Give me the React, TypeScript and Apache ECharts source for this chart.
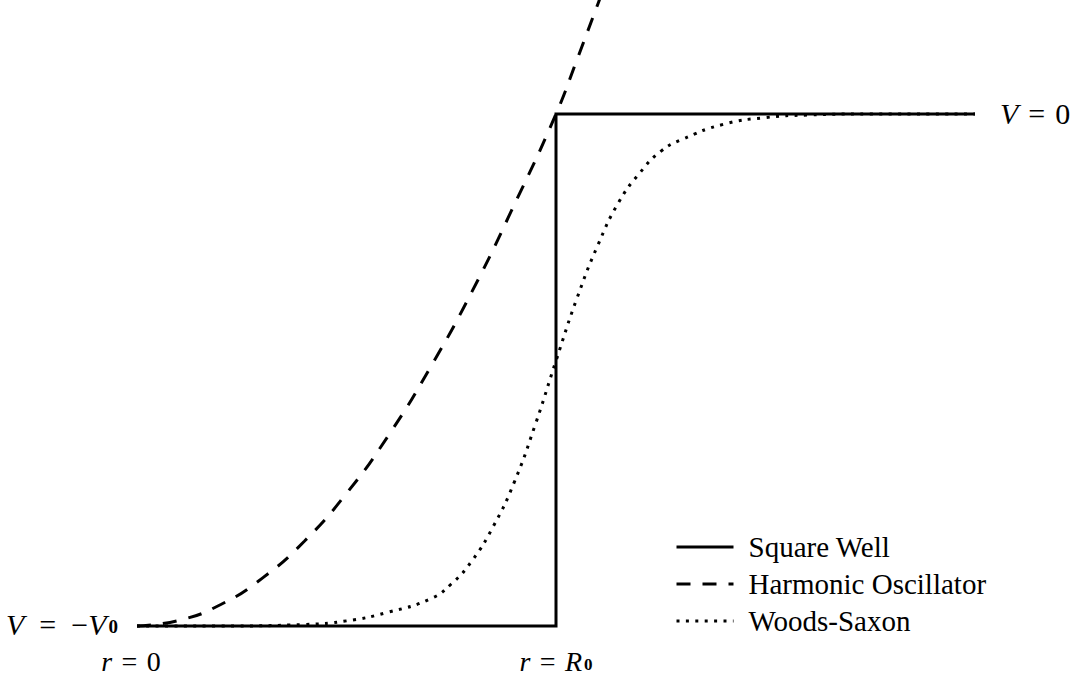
import React, { useEffect, useRef } from 'react';
import * as echarts from 'echarts';

// Radius in units of R0, potential in units of V0
const squareWellR = [0, 1, 1, 2];
const squareWellV = [-1, -1, 0, 0];

const oscillatorR = [0, 0.1, 0.2, 0.3, 0.4, 0.5, 0.6, 0.7, 0.8, 0.9, 1.0, 1.05, 1.1, 1.13];
const oscillatorV = [-1, -0.989, -0.958, -0.906, -0.834, -0.741, -0.628, -0.495, -0.346, -0.178, 0, 0.106, 0.215, 0.28];

const woodsSaxonR = [0, 0.2, 0.4, 0.5, 0.6, 0.7, 0.75, 0.8, 0.85, 0.9, 0.95, 1.0, 1.05, 1.1, 1.15, 1.2, 1.25, 1.3, 1.4, 1.5, 1.6, 1.75, 2.0];
const woodsSaxonV = [-1, -1, -0.997, -0.99, -0.973, -0.947, -0.918, -0.872, -0.806, -0.72, -0.608, -0.482, -0.36, -0.256, -0.172, -0.115, -0.073, -0.05, -0.02, -0.007, -0.002, 0, 0];

const seriesNames = ['Square Well', 'Harmonic Oscillator', 'Woods-Saxon'];

const FONT = '"Liberation Serif", "DejaVu Serif", serif';

const solidStyle = { color: '#000', width: 3, type: 'solid' as const, cap: 'butt' as const };
const dashedStyle = { color: '#000', width: 3, type: [14, 12], cap: 'butt' as const };
const dottedStyle = { color: '#000', width: 3, type: [3, 6.4], cap: 'butt' as const };

const pairs = (r: number[], v: number[]) => r.map((x, i) => [x, v[i]]);

export default function App() {
  const ref = useRef<HTMLDivElement>(null);

  useEffect(() => {
    if (!ref.current) return;
    const chart = echarts.init(ref.current, null, { renderer: 'svg' });

    chart.setOption({
      animation: false,
      backgroundColor: '#fff',
      grid: { left: 137, right: 101, top: 1.36, bottom: 23.4 },
      xAxis: {
        type: 'value', min: 0, max: 2, show: false,
        splitLine: { show: false },
      },
      yAxis: {
        type: 'value', min: -1.05, max: 0.22, show: false,
        splitLine: { show: false },
      },
      legend: {
        orient: 'vertical',
        left: 675,
        top: 532,
        padding: 0,
        itemWidth: 57,
        itemHeight: 14,
        itemGap: 7,
        selectedMode: false,
        itemStyle: { opacity: 0 },
        data: [
          { name: seriesNames[0], lineStyle: solidStyle },
          { name: seriesNames[1], lineStyle: dashedStyle },
          { name: seriesNames[2], lineStyle: dottedStyle },
        ],
        textStyle: {
          color: '#000',
          fontFamily: FONT,
          fontSize: 29,
          lineHeight: 30,
          padding: [0, 0, 0, 10],
        },
      },
      series: [
        {
          name: seriesNames[0],
          type: 'line',
          data: pairs(squareWellR, squareWellV),
          symbol: 'none',
          silent: true,
          lineStyle: { ...solidStyle, join: 'miter' },
          itemStyle: { color: '#000' },
          z: 2,
        },
        {
          name: seriesNames[1],
          type: 'line',
          data: pairs(oscillatorR, oscillatorV),
          symbol: 'none',
          silent: true,
          smooth: 0.5,
          lineStyle: dashedStyle,
          itemStyle: { color: '#000' },
          z: 3,
        },
        {
          name: seriesNames[2],
          type: 'line',
          data: pairs(woodsSaxonR, woodsSaxonV),
          symbol: 'none',
          silent: true,
          smooth: 0.5,
          lineStyle: dottedStyle,
          itemStyle: { color: '#000' },
          z: 4,
        },
      ],
    });

    const origin = chart.convertToPixel({ gridIndex: 0 }, [0, -1]) as number[];
    const edge = chart.convertToPixel({ gridIndex: 0 }, [1, -1]) as number[];
    const rim = chart.convertToPixel({ gridIndex: 0 }, [2, 0]) as number[];

    const makeRich = (size: number) => ({
      i: { fontStyle: 'italic', fontSize: size, fontFamily: FONT, lineHeight: 24 },
      s: { fontSize: Math.round(size * 0.62), fontWeight: 'bold', fontFamily: FONT, verticalAlign: 'bottom', lineHeight: 8, padding: [0, 0, 0, 2] },
    });
    const big = { fill: '#000', fontSize: 30, fontFamily: FONT, lineHeight: 24, rich: makeRich(30) };
    const low = { fill: '#000', fontSize: 28, fontFamily: FONT, lineHeight: 24, rich: makeRich(28) };
    const eq = '\u2004=\u2004';
    const eqMid = '\u2004\u2006=\u2006\u2004';

    chart.setOption({
      graphic: [
        {
          type: 'text', x: origin[0] - 19, y: origin[1] - 2, silent: true,
          style: { ...big, text: `{i|V}${eqMid}−{i|V}{s|0}`, align: 'right', verticalAlign: 'middle' },
        },
        {
          type: 'text', x: origin[0] - 6, y: origin[1] + 35, silent: true,
          style: { ...low, text: `{i|r}${eq}0`, align: 'center', verticalAlign: 'middle' },
        },
        {
          type: 'text', x: edge[0], y: edge[1] + 35, silent: true,
          style: { ...low, text: `{i|r}${eq}{i|R}{s|0}`, align: 'center', verticalAlign: 'middle' },
        },
        {
          type: 'text', x: rim[0] + 25, y: rim[1] - 1, silent: true,
          style: { ...big, text: `{i|V}${eq}0`, align: 'left', verticalAlign: 'middle' },
        },
      ],
    });

    return () => chart.dispose();
  }, []);

  return (
    <div
      ref={ref}
      style={{ position: 'fixed', left: 0, top: 0, width: 1076, height: 675, background: '#fff' }}
    />
  );
}
